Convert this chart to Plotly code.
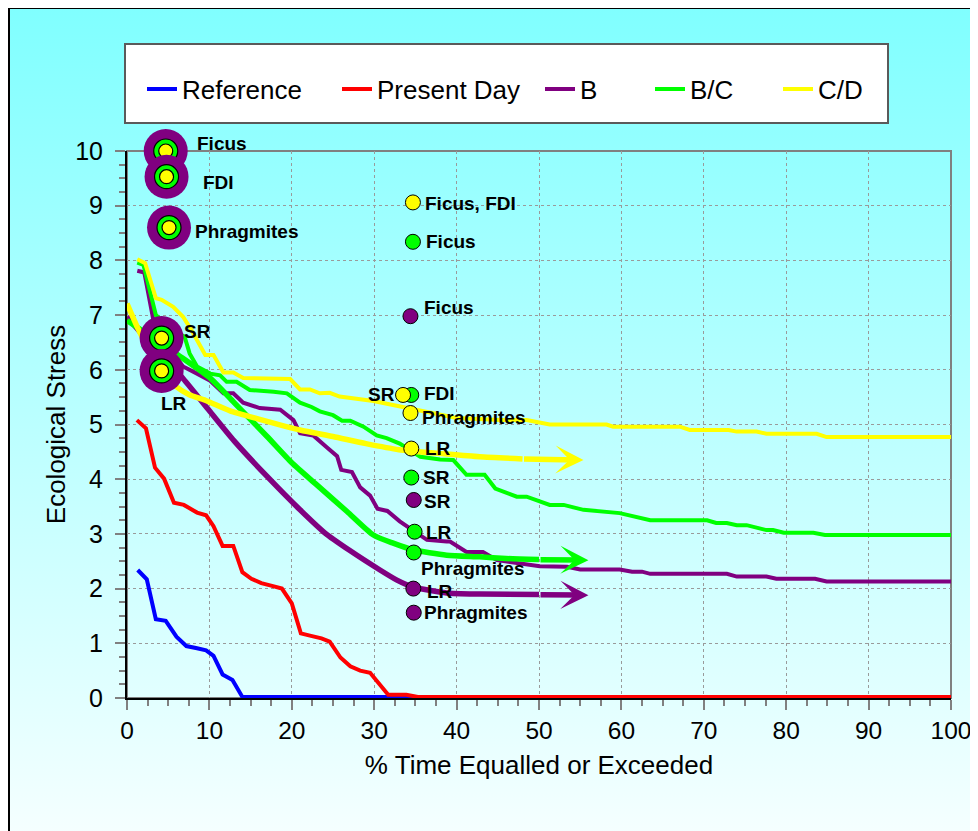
import base64
import plotly.graph_objects as go

# ---------------- data ----------------
ref_x = [1.3, 2.4, 3.5, 4.7, 6.0, 7.2, 8.5, 9.6, 10.5, 11.6, 12.8, 14.0, 100]
ref_y = [2.34, 2.17, 1.44, 1.41, 1.12, 0.95, 0.91, 0.87, 0.77, 0.43, 0.33, 0.02, 0.02]

pd_x = [1.2, 2.3, 3.4, 4.5, 5.7, 6.9, 8.5, 9.6, 10.5, 11.6, 12.9, 14.0, 15.1, 16.3, 17.6,
        18.8, 20.0, 21.1, 22.2, 23.6, 24.6, 25.9, 27.1, 28.3, 29.5, 30.5, 31.7, 33.9, 35.3, 100]
pd_y = [5.08, 4.93, 4.21, 4.01, 3.57, 3.53, 3.39, 3.34, 3.14, 2.78, 2.78, 2.30, 2.18, 2.10, 2.05,
        2.00, 1.73, 1.18, 1.14, 1.09, 1.03, 0.74, 0.58, 0.50, 0.46, 0.27, 0.06, 0.06, 0.02, 0.02]

b_x = [1.25, 2.1, 3.2, 4.6, 6.2, 6.8, 8.5, 10.1, 11.7, 12.9, 14.1, 16.1, 18.6, 19.8, 20.2, 21.0,
       22.6, 24.2, 24.8, 25.5, 26.0, 27.3, 28.3, 29.5, 30.4, 31.6, 33.1, 36.4, 38.8, 39.2, 41.2,
       43.2, 44.9, 50.1, 53.4, 55.0, 59.8, 61.3, 62.5, 63.5, 72.8, 74.0, 77.6, 78.8, 83.5, 84.9, 100]
b_y = [7.81, 7.78, 6.91, 6.5, 6.18, 6.06, 5.93, 5.80, 5.57, 5.57, 5.40, 5.30, 5.27, 5.14, 5.08, 4.84,
       4.80, 4.59, 4.51, 4.42, 4.17, 4.13, 3.85, 3.70, 3.46, 3.42, 3.23, 2.89, 2.86, 2.86, 2.67,
       2.67, 2.52, 2.41, 2.40, 2.35, 2.35, 2.31, 2.31, 2.27, 2.27, 2.22, 2.22, 2.18, 2.18, 2.13, 2.13]

b_trend_x = [0, 3, 6.8, 10, 13, 17, 21, 24, 27, 30.7, 32.7, 34.7, 38.8, 42.8, 50, 56.0]
b_trend_y = [6.97, 6.45, 5.84, 5.25, 4.70, 4.05, 3.44, 3.02, 2.70, 2.34, 2.16, 2.03, 1.92, 1.90, 1.89, 1.88]

bc_x = [1.25, 2.0, 3.5, 5.0, 7.0, 7.6, 8.5, 10.1, 11.3, 12.1, 13.3, 14.9, 17.8, 19.4, 21.0, 22.4,
        23.4, 25.0, 26.1, 27.1, 28.7, 30.3, 31.5, 33.1, 35.6, 38.0, 39.6, 41.2, 43.4, 44.7, 47.3,
        48.5, 51.3, 53.0, 55.4, 58.2, 59.8, 63.5, 70.4, 71.5, 72.8, 74.0, 75.2, 77.6, 78.4, 79.7,
        83.3, 84.7, 100]
bc_y = [7.96, 7.92, 7.0, 6.8, 6.6, 6.30, 6.06, 5.93, 5.90, 5.78, 5.78, 5.63, 5.60, 5.57, 5.40, 5.32,
        5.24, 5.17, 5.07, 5.07, 4.96, 4.80, 4.75, 4.65, 4.41, 4.36, 4.35, 4.08, 4.08, 3.83, 3.68,
        3.68, 3.53, 3.53, 3.44, 3.41, 3.38, 3.25, 3.25, 3.20, 3.20, 3.16, 3.16, 3.07, 3.07, 3.02,
        3.02, 2.98, 2.98]

bc_trend_x = [0, 3, 6.2, 10, 13, 17, 20, 23, 26.7, 29.9, 32.3, 34.7, 38.8, 42.8, 46, 50, 56.0]
bc_trend_y = [6.90, 6.60, 6.27, 5.86, 5.40, 4.78, 4.30, 3.90, 3.41, 2.98, 2.83, 2.71, 2.61, 2.58, 2.55, 2.53, 2.52]

cd_x = [1.25, 2.2, 3.5, 4.2, 5.6, 6.8, 7.8, 8.9, 9.5, 10.5, 11.7, 12.9, 14.1, 19.8, 21.0, 22.2,
        23.4, 24.6, 25.8, 29.9, 33.1, 36.0, 40.0, 45.3, 48.5, 51.3, 58.2, 59.0, 67.1, 68.3, 73.0,
        74.0, 76.4, 77.6, 83.7, 84.9, 100]
cd_y = [8.02, 7.95, 7.31, 7.28, 7.15, 6.97, 6.73, 6.45, 6.27, 6.27, 5.95, 5.95, 5.85, 5.83, 5.64, 5.64,
        5.57, 5.58, 5.51, 5.43, 5.33, 5.25, 5.12, 5.08, 5.08, 5.00, 5.00, 4.96, 4.96, 4.90, 4.90,
        4.87, 4.87, 4.83, 4.83, 4.77, 4.77]

cd_trend_x = [0, 1.5, 3, 4.5, 6, 7.5, 9.7, 12.5, 16, 21, 25, 29, 33, 38.8, 42.8, 48, 55.4]
cd_trend_y = [7.21, 6.70, 6.30, 5.95, 5.69, 5.55, 5.43, 5.25, 5.10, 4.90, 4.78, 4.65, 4.54, 4.46, 4.41, 4.37, 4.35]

# early (combined) points, top-left
early_labels = ["Ficus", "FDI", "Phragmites", "SR", "LR"]
early_x = [4.7, 4.8, 5.1, 4.2, 4.2]
early_y = [10.0, 9.53, 8.6, 6.58, 5.98]

# points near 35 %
b_pt_labels = ["Ficus", "SR", "LR", "Phragmites"]
b_pt_x = [34.4, 34.8, 34.75, 34.8]
b_pt_y = [6.98, 3.62, 2.0, 1.56]

bc_pt_labels = ["Ficus", "FDI", "SR", "LR", "Phragmites"]
bc_pt_x = [34.7, 34.5, 34.5, 34.9, 34.8]
bc_pt_y = [8.34, 5.54, 4.03, 3.04, 2.66]

cd_pt_labels = ["Ficus, FDI", "SR", "Phragmites", "LR"]
cd_pt_x = [34.7, 33.5, 34.4, 34.5]
cd_pt_y = [9.06, 5.54, 5.21, 4.56]

x_ticks = list(range(0, 101, 10))
y_ticks = list(range(0, 11))

# ---------------- styles ----------------
BLUE, RED, PURPLE, GREEN, YELLOW = "#0000FF", "#FF0000", "#800080", "#00FF00", "#FFFF00"
FONT = "Liberation Sans, Arial, Helvetica, sans-serif"

# label offsets (dx, dy px; dy positive = down) and anchors
early_off = [(29, -8, "left"), (34, 6, "left"), (24, 4, "left"), (20, -7, "left"), (-3, 33, "left")]
b_off = [(12, -9, "left"), (8, 2, "left"), (12, 3, "left"), (8, 0, "left")]
bc_off = [(11, 0, "left"), (11, -1, "left"), (10, 0, "left"), (9, 1, "left"), (5, 16, "left")]
cd_off = [(10, 1, "left"), (-6, 0, "right"), (10, 4, "left"), (12, 0, "left")]

# page offset of the figure (browser body margin) and plot area in figure pixels
OFF = 8
W, H = 970, 823
L, T = 127 - OFF, 151 - OFF
PR, PB = 951 - OFF, 698 - OFF
R, B = W - PR, H - PB
PW, PH = PR - L, PB - T


def px_x(p):
    """screen x pixel -> paper coordinate"""
    return (p - OFF - L) / PW


def px_y(p):
    """screen y pixel -> paper coordinate"""
    return (PB - (p - OFF)) / PH


fig = go.Figure()

# series lines
fig.add_trace(go.Scatter(x=ref_x, y=ref_y, mode="lines", name="Reference",
                         line=dict(color=BLUE, width=4), legend="legend"))
fig.add_trace(go.Scatter(x=pd_x, y=pd_y, mode="lines", name="Present Day",
                         line=dict(color=RED, width=4), legend="legend2"))

series = [
    ("B", b_x, b_y, b_trend_x, b_trend_y, PURPLE, "legend3"),
    ("B/C", bc_x, bc_y, bc_trend_x, bc_trend_y, GREEN, "legend4"),
    ("C/D", cd_x, cd_y, cd_trend_x, cd_trend_y, YELLOW, "legend5"),
]
arrows = []
for name, sx, sy, tx, ty, col, lg in series:
    fig.add_trace(go.Scatter(x=sx, y=sy, mode="lines", name=name,
                             line=dict(color=col, width=4), legend=lg))
    fig.add_trace(go.Scatter(x=tx[:-1], y=ty[:-1], mode="lines", showlegend=False,
                             line=dict(color=col, width=5.5, shape="spline", smoothing=0.6),
                             hoverinfo="skip"))
    arrows.append(dict(x=tx[-1], y=ty[-1], ax=tx[-2], ay=ty[-2], xref="x", yref="y",
                       axref="x", ayref="y", text="", showarrow=True, arrowhead=3,
                       arrowsize=0.85, arrowwidth=5.5, arrowcolor=col, standoff=0))

# early combined markers: purple / green / yellow rings
ex, ey, es, ec, el = [], [], [], [], []
for x, y in zip(early_x, early_y):
    for size, col, lw in ((44, PURPLE, 0), (24, GREEN, 1.2), (14, YELLOW, 1.2)):
        ex.append(x); ey.append(y); es.append(size); ec.append(col); el.append(lw)
fig.add_trace(go.Scatter(x=ex, y=ey, mode="markers", showlegend=False, cliponaxis=False,
                         marker=dict(size=es, color=ec, opacity=1,
                                     line=dict(color="black", width=el)),
                         hoverinfo="skip"))

for px_, py_, col in ((b_pt_x, b_pt_y, PURPLE), (bc_pt_x, bc_pt_y, GREEN), (cd_pt_x, cd_pt_y, YELLOW)):
    fig.add_trace(go.Scatter(x=px_, y=py_, mode="markers", showlegend=False, cliponaxis=False,
                             marker=dict(size=15, color=col, line=dict(color="black", width=1)),
                             hoverinfo="skip"))

annotations = list(arrows)
for labels, xs, ys, offs in ((early_labels, early_x, early_y, early_off),
                             (b_pt_labels, b_pt_x, b_pt_y, b_off),
                             (bc_pt_labels, bc_pt_x, bc_pt_y, bc_off),
                             (cd_pt_labels, cd_pt_x, cd_pt_y, cd_off)):
    for lab, x, y, (dx, dy, anc) in zip(labels, xs, ys, offs):
        annotations.append(dict(x=x, y=y, xref="x", yref="y", text="<b>%s</b>" % lab,
                                showarrow=False, xanchor=anc, yanchor="middle",
                                xshift=dx, yshift=-dy,
                                font=dict(family=FONT, size=19, color="black")))

# background gradient
svg = ('<svg xmlns="http://www.w3.org/2000/svg" width="100" height="100" viewBox="0 0 100 100" '
       'preserveAspectRatio="none"><defs><linearGradient id="g" x1="0" y1="0" x2="0" y2="1">'
       '<stop offset="0" stop-color="#80FFFF"/><stop offset="1" stop-color="#F6FFFF"/>'
       '</linearGradient></defs><rect width="100" height="100" fill="url(#g)"/></svg>')
uri = "data:image/svg+xml;base64," + base64.b64encode(svg.encode()).decode()

shapes = [
    # outer frame (only left/top visible)
    dict(type="rect", xref="paper", yref="paper", x0=px_x(9), x1=px_x(1100),
         y0=px_y(1000), y1=px_y(8), line=dict(color="black", width=2), layer="below"),
    # grey plot frame
    dict(type="rect", xref="paper", yref="paper", x0=0, x1=1, y0=0, y1=1,
         line=dict(color="#808080", width=2), layer="below"),
    # legend box
    dict(type="rect", xref="paper", yref="paper", x0=px_x(125), x1=px_x(888),
         y0=px_y(123), y1=px_y(44), line=dict(color="#5a5a5a", width=2),
         fillcolor="white", layer="below"),
]

legend_text_x = [182, 377, 580, 690, 818]
legend_cfg = {}
for i, tx in enumerate(legend_text_x):
    key = "legend" if i == 0 else "legend%d" % (i + 1)
    legend_cfg[key] = dict(x=px_x(tx - 40), y=px_y(89), xanchor="left", yanchor="middle",
                           orientation="h", bgcolor="rgba(0,0,0,0)", borderwidth=0,
                           font=dict(family=FONT, size=26, color="black"), itemwidth=30)

axis_common = dict(showline=True, linecolor="black", linewidth=2, mirror=False,
                   ticks="outside", ticklen=10, tickwidth=2, tickcolor="#808080",
                   showgrid=True, gridcolor="#9a9a9a", griddash="dot", gridwidth=1,
                   zeroline=False, automargin=False)

fig.update_layout(
    width=W, height=H, autosize=False,
    margin=dict(l=L, r=R, t=T, b=B),
    paper_bgcolor="white", plot_bgcolor="rgba(0,0,0,0)",
    images=[dict(source=uri, xref="paper", yref="paper", x=px_x(10), y=px_y(9),
                 sizex=px_x(1000) - px_x(10), sizey=px_y(9) - px_y(840),
                 xanchor="left", yanchor="top", sizing="stretch", layer="below")],
    shapes=shapes,
    annotations=annotations,
    xaxis=dict(range=[0, 100], tickvals=x_ticks,
               tickfont=dict(family=FONT, size=24.5, color="black"),
               title=dict(text="% Time Equalled or Exceeded", standoff=12,
                          font=dict(family=FONT, size=26, color="black")),
               minor=dict(dtick=2.5, tick0=0, ticks="outside", ticklen=6, tickwidth=1.5,
                          tickcolor="#808080", showgrid=False),
               **axis_common),
    yaxis=dict(range=[0, 10], tickvals=y_ticks, ticklabelstandoff=7,
               tickfont=dict(family=FONT, size=25, color="black"),
               title=dict(text="Ecological Stress", standoff=2,
                          font=dict(family=FONT, size=26, color="black")),
               minor=dict(dtick=0.25, tick0=0, ticks="outside", ticklen=6, tickwidth=1.5,
                          tickcolor="#808080", showgrid=False),
               **axis_common),
    **legend_cfg,
)

fig.write_html("out.html")
